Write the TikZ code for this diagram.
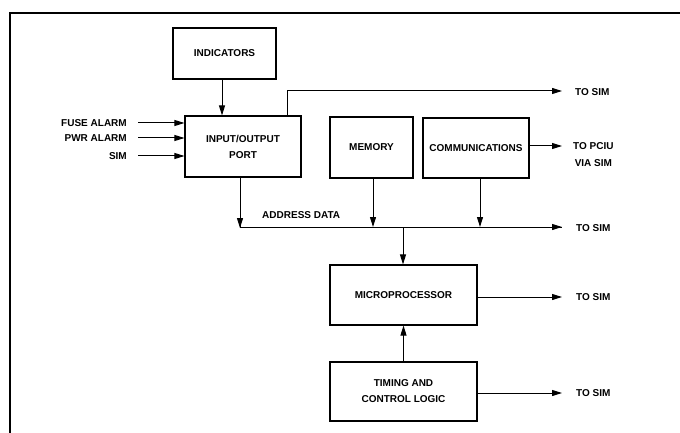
\documentclass[tikz,border=0pt]{standalone}
\usepackage{fontspec}
\setmainfont{Liberation Sans}
\usetikzlibrary{arrows.meta}
\begin{document}
\begin{tikzpicture}[x=1pt,y=-1pt,
  blk/.style={draw,line width=1.1pt,minimum width=#1,inner sep=0pt,align=center,font=\fontsize{10}{16}\selectfont\bfseries},
  lbl/.style={inner sep=0pt,align=center,font=\fontsize{10}{17}\selectfont\bfseries},
  arr/.style={line width=1pt,-{Triangle[length=10pt,width=6pt]}},
  ln/.style={line width=1pt}]
\useasboundingbox (0,0) rectangle (680,433);
\draw[line width=1.6pt] (10,433) -- (10,13) -- (680,13);
% blocks
\node[blk=103pt,minimum height=51pt] (ind) at (224.5,53.5) {INDICATORS};
\node[blk=116pt,minimum height=61pt] (io) at (243,146.5) {INPUT/OUTPUT\\PORT};
\node[blk=83pt,minimum height=61pt] (mem) at (371.5,147.5) {MEMORY};
\node[blk=106pt,minimum height=60pt] (com) at (476,148) {COMMUNICATIONS};
\node[blk=147pt,minimum height=60pt] (mic) at (403.5,295) {MICROPROCESSOR};
\node[blk=147pt,minimum height=59pt] (tim) at (403.5,391.5) {TIMING AND\\CONTROL LOGIC};
% labels
\node[lbl,anchor=east] (fuse) at (127,123) {FUSE ALARM};
\node[lbl,anchor=east] (pwr) at (127,138) {PWR ALARM};
\node[lbl,anchor=east] (sim) at (127,156) {SIM};
\node[lbl,anchor=west] (t1) at (575,92) {TO SIM};
\node[lbl,anchor=west] (t2) at (573,154.5) {TO PCIU\\VIA SIM};
\node[lbl,anchor=west] (t3) at (576,228) {TO SIM};
\node[lbl,anchor=west] (t4) at (576,297) {TO SIM};
\node[lbl,anchor=west] (t5) at (576,393) {TO SIM};
\node[lbl,anchor=west] (ad) at (262,215) {ADDRESS DATA};
% coordinates
\coordinate (busL) at (240,227);
\coordinate (busR) at (562,227);
\coordinate (topR) at (562,91);
\coordinate (busM) at (403,227);
% connectors
\draw[arr] ([xshift=-2.5pt]ind.south) -- ([xshift=-2.5pt]ind.south |- io.north);
\draw[arr] ([xshift=11pt]fuse.east) -- (fuse.east -| io.west);
\draw[arr] ([xshift=11pt]pwr.east) -- (pwr.east -| io.west);
\draw[arr] ([xshift=11pt]sim.east) -- (sim.east -| io.west);
\draw[arr] ([xshift=44pt]io.north) |- (topR);
\draw[arr] (com.east |- t2.center) ++(0,-8.5) coordinate (ce) -- (ce -| topR);
\draw[ln] (busL |- io.south) -- (busL) -- (busR);
\draw[arr] (busL |- io.south) -- ([yshift=-1pt]busL);
\draw[arr] (busL) -- (busR);
\draw[arr] ([xshift=1.5pt]mem.south) -- ([xshift=1.5pt]mem.south |- busL);
\draw[arr] ([xshift=4pt]com.south) -- ([xshift=4pt]com.south |- busL);
\draw[arr] (busM) -- (busM |- mic.north);
\draw[arr] (mic.east |- t4.center) -- (t4.center -| topR);
\draw[arr] (tim.east |- t5.center) -- (t5.center -| topR);
\draw[arr] (tim.north) -- (mic.south);
\end{tikzpicture}
\end{document}
